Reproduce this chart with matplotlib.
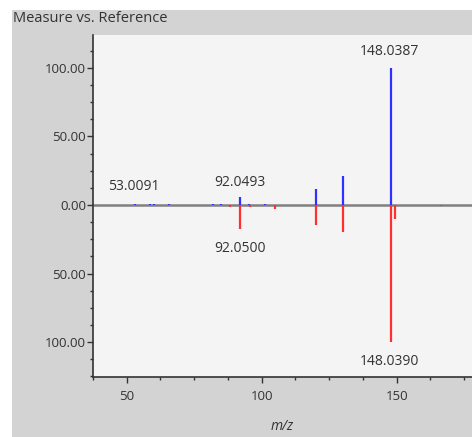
import matplotlib
matplotlib.use("Agg")
import matplotlib.pyplot as plt
from matplotlib.patches import Rectangle
from matplotlib.ticker import MultipleLocator, FuncFormatter

plt.rcParams['font.family'] = ['Open Sans', 'DejaVu Sans']

# measured spectrum (drawn upward)
meas_mz = [53.0091, 58.5, 60.0, 65.6, 82.0, 85.0, 92.0493, 95.2, 101.1, 120.2, 130.1, 148.0387]
meas_int = [0.6, 0.6, 0.6, 0.6, 0.8, 0.8, 6.0, 1.0, 0.8, 11.7, 21.0, 100.0]

# reference spectrum (drawn downward)
ref_mz = [88.1, 92.0500, 95.5, 105.1, 120.2, 130.1, 148.0390, 149.3, 166.3]
ref_int = [1.5, 17.5, 1.5, 3.0, 14.6, 20.0, 100.0, 10.0, 1.0]

# peak labels: (text, m/z, y)
labels = [("53.0091", 52.5, 13.5),
          ("92.0493", 92.0, 16.5),
          ("148.0387", 147.5, 112),
          ("92.0500", 92.0, -32),
          ("148.0390", 147.5, -114)]

fig = plt.figure(figsize=(4.72, 4.37), dpi=100)
fig.patch.set_facecolor("white")
bg = Rectangle((12 / 472, 0), 1, 1 - 10 / 437, transform=fig.transFigure,
               facecolor="#d3d3d3", edgecolor="none", zorder=-10)
fig.add_artist(bg)
fig.text(13 / 472, 1 - 18 / 437, "Measure vs. Reference", fontsize=10.5, color="#333333",
         va="center", ha="left")

ax = fig.add_axes([93 / 472, 60 / 437, 1 - 93 / 472, 342 / 437])
ax.set_facecolor("#f4f4f4")

ax.vlines(meas_mz, 0, meas_int, color="#3030ff", linewidth=1.6, zorder=3)
ax.vlines(ref_mz, 0, [-v for v in ref_int], color="#ff3030", linewidth=1.6, zorder=3)
ax.axhline(0, color="#808080", linewidth=1.8, zorder=2)

for txt, x, y in labels:
    ax.text(x, y, txt, fontsize=10, color="#333333", ha="center", va="center")

ax.set_xlim(37.5, 177.9)
ax.set_ylim(-125.5, 124)
ax.xaxis.set_major_locator(MultipleLocator(50))
ax.xaxis.set_minor_locator(MultipleLocator(12.5))
ax.yaxis.set_major_locator(MultipleLocator(50))
ax.yaxis.set_minor_locator(MultipleLocator(12.5))
ax.yaxis.set_major_formatter(FuncFormatter(lambda v, p: "%.2f" % abs(v)))

for s in ["top", "right"]:
    ax.spines[s].set_visible(False)
for s in ["left", "bottom"]:
    ax.spines[s].set_color("#333333")
    ax.spines[s].set_linewidth(1.2)

ax.tick_params(which="major", length=4, width=1, color="#333333", labelsize=9.5,
               labelcolor="#333333")
ax.tick_params(which="minor", length=2.5, width=1, color="#333333")
ax.tick_params(axis="y", pad=1)
ax.tick_params(axis="x", pad=5)

ax.set_xlabel("m/z", fontsize=10, style="italic", color="#333333", labelpad=12)

plt.savefig("out.png", dpi=100)
